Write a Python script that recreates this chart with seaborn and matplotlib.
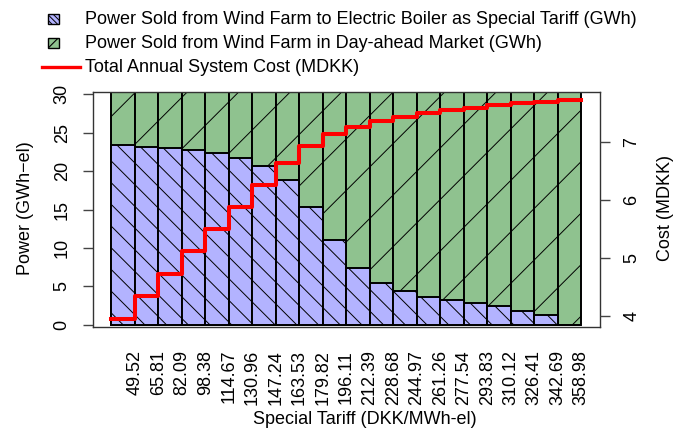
import numpy as np
import pandas as pd
import matplotlib
matplotlib.use("Agg")
import matplotlib.pyplot as plt
import seaborn as sns
from matplotlib.collections import LineCollection
from matplotlib.transforms import IdentityTransform
from matplotlib.patches import Rectangle
from matplotlib.lines import Line2D

# ---------------- data ----------------
tariff_labels = ["49.52", "65.81", "82.09", "98.38", "114.67", "130.96", "147.24",
                 "163.53", "179.82", "196.11", "212.39", "228.68", "244.97", "261.26",
                 "277.54", "293.83", "310.12", "326.41", "342.69", "358.98"]
special_tariff_gwh = [23.40, 23.15, 22.95, 22.75, 22.30, 21.65, 20.60, 18.80, 15.35, 11.05,
                      7.40, 5.40, 4.35, 3.65, 3.20, 2.85, 2.45, 1.80, 1.25, 0.00]
day_ahead_gwh = [6.94, 7.19, 7.39, 7.59, 8.04, 8.69, 9.74, 11.54, 14.99, 19.29,
                 22.94, 24.94, 25.99, 26.69, 27.14, 27.49, 27.89, 28.54, 29.09, 30.34]
system_cost_mdkk = [3.955, 4.345, 4.730, 5.110, 5.495, 5.875, 6.255, 6.635, 6.930, 7.135,
                    7.260, 7.350, 7.425, 7.485, 7.540, 7.585, 7.630, 7.665, 7.690, 7.710]
left_ticks = [0, 5, 10, 15, 20, 25, 30]
right_ticks = [4, 5, 6, 7]

BLUE = "#B3B3FF"
GREEN = "#8FC28F"
FS = 13

plt.rcParams["font.family"] = ["Liberation Sans", "DejaVu Sans"]
plt.rcParams["hatch.linewidth"] = 0.7

df = pd.DataFrame({
    "tariff": [float(t) for t in tariff_labels],
    "special": special_tariff_gwh,
    "dayahead": day_ahead_gwh,
})
df["stack_top"] = df["special"] + df["dayahead"]

W, H = 673, 430
fig = plt.figure(figsize=(W / 100, H / 100), dpi=100)
L, R, T, B = 92.5, 600, 91.7, 327.3
ax = fig.add_axes([L / W, 1 - B / H, (R - L) / W, (B - T) / H])

sns.barplot(data=df, x="tariff", y="stack_top", color=GREEN, saturation=1, width=1,
            edgecolor="black", linewidth=1.4, errorbar=None, zorder=1, ax=ax)
n = len(df)
green_patches = list(ax.patches[:n])
sns.barplot(data=df, x="tariff", y="special", color=BLUE, saturation=1, width=1,
            edgecolor="black", linewidth=1.4, errorbar=None, zorder=3, ax=ax)
blue_patches = list(ax.patches[n:2 * n])

ax.set_xlim(-0.5 - 0.8, n - 0.5 + 0.8)
ax.set_ylim(-0.34, 30.34)
ax.set_xlabel("")
ax.set_ylabel("")

ax.set_xticks(np.arange(n) + 0.5)
ax.set_xticklabels(tariff_labels, rotation=90, fontsize=FS)
ax.tick_params(axis="x", length=0, pad=16.3)

ax.set_yticks(left_ticks)
ax.set_yticklabels([str(t) for t in left_ticks], fontsize=FS)
ax.tick_params(axis="y", length=7.2, width=1.0, color="#444444", pad=8.5)
for lab in ax.get_yticklabels():
    lab.set_rotation(90)
    lab.set_va("center")

for s in ax.spines.values():
    s.set_color("#333333")
    s.set_linewidth(1.0)

# step line on secondary axis
ax2 = ax.twinx()
edges = np.arange(n + 1) - 0.5
cost_ext = system_cost_mdkk + [system_cost_mdkk[-1]]
sns.lineplot(x=edges, y=cost_ext, drawstyle="steps-post", color="red",
             linewidth=2.9, ax=ax2, zorder=5)
ax2.set_ylim(3.805, 7.86)
ax2.set_xlim(ax.get_xlim())
ax2.set_yticks(right_ticks)
ax2.set_yticklabels([str(t) for t in right_ticks], fontsize=FS)
ax2.tick_params(axis="y", length=7.2, width=1.0, color="#444444", pad=9.5)
for lab in ax2.get_yticklabels():
    lab.set_rotation(90)
    lab.set_va("center")
ax2.set_ylabel("")
ax2.set_xlabel("")
for s in ax2.spines.values():
    s.set_visible(False)

# ---------------- manual hatching (R-style density) ----------------
fig.canvas.draw()


def add_hatch(patches, spacing, phase, direction, z):
    for p in patches:
        bb = p.get_window_extent()
        x0, x1 = bb.x0, bb.x1
        yi0, yi1 = H - bb.y1, H - bb.y0
        if bb.height <= 0.5:
            continue
        segs = []
        if direction == "/":
            cmin, cmax = x0 + yi0, x1 + yi1
            ks = np.arange(np.floor((cmin - phase) / spacing), np.ceil((cmax - phase) / spacing) + 1)
            for c in phase + ks * spacing:
                segs.append([(x0, H - (c - x0)), (x1, H - (c - x1))])
        else:
            cmin, cmax = yi0 - x1, yi1 - x0
            ks = np.arange(np.floor((cmin - phase) / spacing), np.ceil((cmax - phase) / spacing) + 1)
            for c in phase + ks * spacing:
                segs.append([(x0, H - (c + x0)), (x1, H - (c + x1))])
        lc = LineCollection(segs, colors="black", linewidths=0.7,
                            transform=IdentityTransform(), zorder=z)
        ax.add_collection(lc, autolim=False)
        lc.set_clip_path(p)


add_hatch(green_patches, 51.5, 227.7, "/", 2)
add_hatch(blue_patches, 21.7, 180.0, "\\", 4)

# ---------------- axis titles ----------------
fig.text(25 / W, 1 - 208 / H, "Power (GWh\u2212el)", rotation=90, ha="center", va="center", fontsize=FS)
fig.text(665 / W, 1 - 208 / H, "Cost (MDKK)", rotation=90, ha="center", va="center", fontsize=FS)
fig.text(365 / W, 1 - 420 / H, "Special Tariff (DKK/MWh-el)", ha="center", va="center", fontsize=FS)

# ---------------- legend ----------------
rows = [19, 43, 67]
labels = ["Power Sold from Wind Farm to Electric Boiler as Special Tariff (GWh)",
          "Power Sold from Wind Farm in Day-ahead Market (GWh)",
          "Total Annual System Cost (MDKK)"]
sq = 10.5
sx = 48
r1 = Rectangle((sx, H - rows[0] - sq / 2), sq, sq, transform=IdentityTransform(),
               facecolor=BLUE, edgecolor="black", linewidth=1.0, hatch="\\\\\\\\\\\\")
fig.add_artist(r1)
r2 = Rectangle((sx, H - rows[1] - sq / 2), sq, sq, transform=IdentityTransform(),
               facecolor=GREEN, edgecolor="black", linewidth=1.0)
fig.add_artist(r2)
fig.add_artist(Line2D([sx + 1, sx + sq - 1], [H - rows[1] - sq / 2 + 1, H - rows[1] + sq / 2 - 1],
                      transform=IdentityTransform(), color="black", linewidth=0.8))
fig.add_artist(Line2D([42, 80], [H - rows[2], H - rows[2]], transform=IdentityTransform(),
                      color="red", linewidth=2.4))
for y, t in zip(rows, labels):
    fig.text(85 / W, 1 - y / H, t, ha="left", va="center", fontsize=FS)

fig.savefig("out.png", dpi=100)
